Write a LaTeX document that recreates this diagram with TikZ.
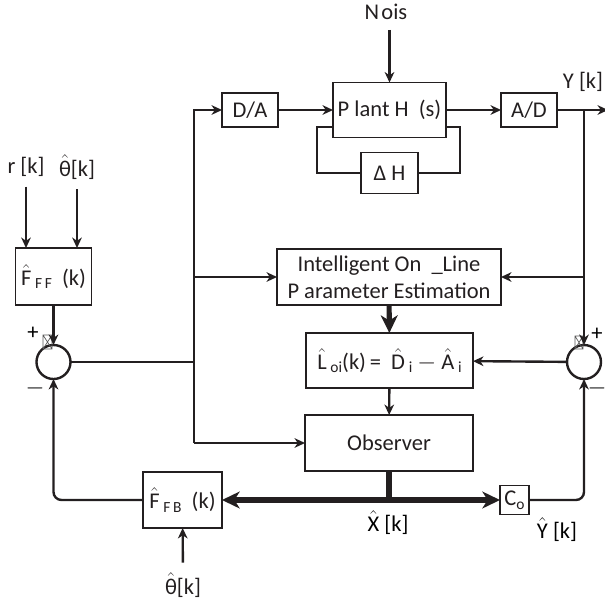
\documentclass[tikz,border=0pt]{standalone}
\usepackage{amsmath,fontspec}
\setmainfont{Carlito}
\usetikzlibrary{arrows.meta,calc}
\definecolor{Wire}{HTML}{231F20}
\newcommand\hh[1]{\ensuremath{\hat{\text{#1}}}}
\newcommand\lo[1]{\raisebox{-.35ex}{\fontsize{11}{11}\selectfont #1}}
\tikzset{blk/.style={draw=Wire,line width=.9pt,inner sep=0pt,outer sep=0pt,align=center,text=Wire},sig/.style={-{Stealth[length=2.6mm,width=2.4mm,inset=.8mm]},line width=1.7pt,draw=Wire},wire/.style={line width=1.7pt,draw=Wire},bus/.style={line width=3.6pt,draw=Wire},busflow/.style={bus,-{Stealth[length=4.4mm,width=4.2mm,inset=1.3mm]}},sumc/.style={circle,draw=Wire,line width=1.7pt,minimum size=8.5mm,inner sep=0pt,outer sep=0pt},lab/.style={inner sep=0pt,outer sep=2.5mm,text=Wire},xbox/.style={draw=black!65,line width=.5pt}}

\begin{document}
\begin{tikzpicture}[x=0.025cm,y=-0.025cm,font=\fontsize{16}{19}\selectfont]
\useasboundingbox (0,0) rectangle (605,600);
% plant loop
\node[blk,minimum width=1.4cm,minimum height=.85cm] (da) at (250,110) {D/A};
\node[blk,minimum width=2.825cm,minimum height=1.375cm] (plant) at (389.5,110) {P lant H\ \ (s)};
\node[blk,minimum width=1.4cm,minimum height=.85cm] (ad) at (529,110) {A/D};
\node[blk,minimum width=1.425cm,minimum height=1.025cm] (dh) at (389.5,173) {Δ H};
\node[lab] (nois) at (386,12) {N\kern.1em ois};
\node[lab,inner sep=0pt,outer sep=0pt] (yk) at (583,82) {Y [k]};
\coordinate (yend) at (608,110);
% estimation and observer
\node[blk,minimum width=1.9cm,minimum height=1.425cm] (fff) at (53.5,276.5) {\hh{F}\,\lo{F\,F}\ \ (k)};
\node[blk,minimum width=5.6cm,minimum height=1.4cm] (ipe) at (389,277) {Intelligent On\ \ \_Line\\P arameter Estimation};
\node[blk,minimum width=4.175cm,minimum height=1.375cm] (loi) at (389.5,360.5) {\hh{L}\,\lo{oi}(k)\,=\ \ \hh{D}\,\lo{i}\ $-$\ \hh{A}\,\lo{i}};
\node[blk,minimum width=4.2cm,minimum height=1.4cm] (obs) at (389,443) {Observer};
\node[blk,minimum width=1.975cm,minimum height=1.4cm] (ffb) at (182.5,500) {\hh{F}\,\lo{F\,B}\ \ (k)};
\node[blk,minimum width=.725cm,minimum height=.725cm] (co) at (514.5,500) {C\lo{o}};
\node[sumc] (s1) at (53.5,362) {};
\node[sumc] (s2) at (584,362) {};
\node[lab] (rk) at (26,167) {r [k]};
\node[lab] (th1) at (77,167) {\hh{θ}[k]};
\node[lab] (th2) at (183,585) {\hh{θ}[k]};
\node[inner sep=0pt] (xk) at (388,523) {\hh{X}\ [k]};
\node[inner sep=0pt] (yhk) at (557,530) {\hh{Y}\ [k]};
\node (p1) at (33,333) {+};\node (m1) at (35,388) {$-$};
\node (p2) at (597,334) {+};\node (m2) at (597,388) {$-$};
\coordinate (lt) at (194,110);\coordinate (lb) at (194,443);\coordinate (rt) at (584,110);\coordinate (xj) at (389,500);
\draw[xbox] (43,335) rectangle (52,349) (43,335)--(52,349) (52,335)--(43,349);
\draw[xbox] (575,336) rectangle (583,349) (575,336)--(583,349) (583,336)--(575,349);
\draw[sig] (lb)--(lt)--(da);\draw[sig] (da)--(plant);\draw[sig] (plant)--(ad);\draw[sig] (ad)--(yend);
\draw[sig] (nois.south -| plant.north)--(plant.north);
\draw[wire] ([yshift=2.6mm]plant.south west)--++(-16,0)|-(dh);\draw[wire] ([yshift=2.6mm]plant.south east)--++(14,0)|-(dh);
\draw[sig] (rk)--(rk |- fff.north);\draw[sig] (th1)--(th1 |- fff.north);\draw[sig] (fff)--(s1);
\draw[wire] (s1)--(s1 -| lb);\draw[sig] (lb |- ipe)--(ipe);\draw[sig] (lb)--(obs);
\draw[sig] (rt)--(s2);\draw[sig] (rt |- ipe)--(ipe);\draw[sig] (s2)--(loi);
\draw[busflow] (ipe)--(loi);\draw[sig] (loi)--(obs);
\draw[bus] (obs)--(xj);\draw[busflow] (xj)--(ffb);\draw[busflow] (xj)--(co);
\draw[sig,rounded corners=2mm] (ffb)-|(s1);\draw[sig,rounded corners=2mm] (co)-|(s2);
\draw[sig] (th2)--(ffb);
\end{tikzpicture}
\end{document}
